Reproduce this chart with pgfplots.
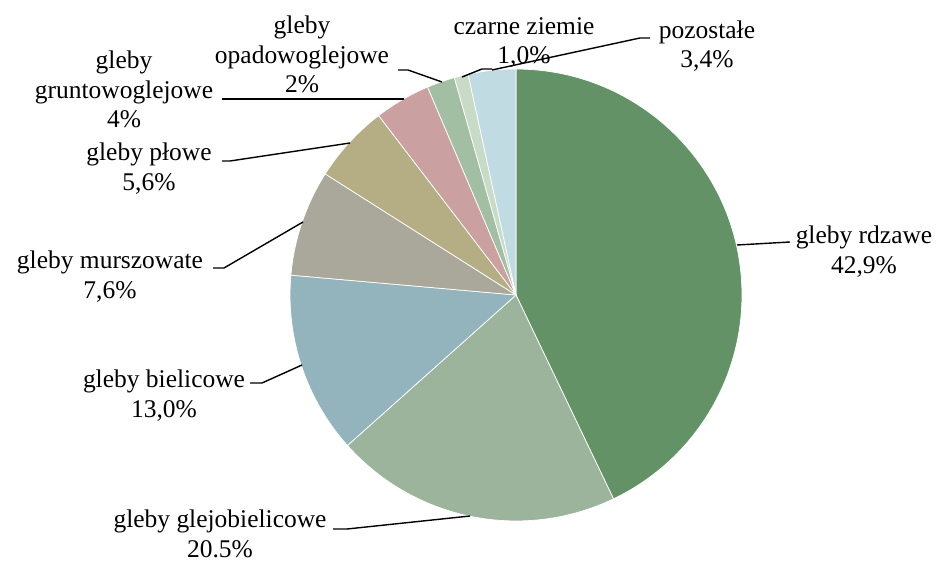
\documentclass[border=0pt]{standalone}
\usepackage{fontspec}
\setmainfont{Liberation Serif}
\usepackage{pgfplots}
\usepackage{pgfplotstable}
\pgfplotsset{compat=1.18}

% slice colours, clockwise from 12 o'clock
\definecolor{pie0}{HTML}{639266}
\definecolor{pie1}{HTML}{9CB49C}
\definecolor{pie2}{HTML}{94B4BD}
\definecolor{pie3}{HTML}{A9A89A}
\definecolor{pie4}{HTML}{B5AE85}
\definecolor{pie5}{HTML}{CBA0A1}
\definecolor{pie6}{HTML}{A3BFA3}
\definecolor{pie7}{HTML}{C8DBC6}
\definecolor{pie8}{HTML}{C0DBE2}

\pgfplotstableread{
soil value
rdzawe 42.9
glejobielicowe 20.5
bielicowe 13.0
murszowate 7.6
plowe 5.6
gruntowoglejowe 4.0
opadowoglejowe 2.0
czarne 1.0
pozostale 3.4
}\soils

\begin{document}
\begin{tikzpicture}[lab/.style={align=center,anchor=base,inner sep=0pt,
    font=\fontsize{14.5}{17}\selectfont}]
\begin{axis}[
  x=0.02cm,y=0.02cm,
  xmin=0,xmax=939,ymin=0,ymax=562,
  hide axis,clip=false,
]
\path (axis cs:0,0) rectangle (axis cs:939,562);
\pgfplotsextra{
  \gdef\startang{90}
  \foreach \i in {0,...,8} {
    \pgfplotstablegetelem{\i}{value}\of\soils
    \pgfmathsetmacro\endang{\startang-3.6*\pgfplotsretval}
    \fill[pie\i,draw=white,line width=0.4pt] (axis cs:516,267) -- ++(\startang:4.52cm)
      arc[start angle=\startang,end angle=\endang,radius=4.52cm] -- cycle;
    \global\let\startang\endang
  }
}
% leader lines
\draw[line width=0.8pt] (axis cs:737,317) -- (axis cs:790,320);
\draw[line width=0.8pt] (axis cs:470,46) -- (axis cs:347,33) -- (axis cs:333,33);
\draw[line width=0.8pt] (axis cs:302,197) -- (axis cs:262,179) -- (axis cs:250,179);
\draw[line width=0.8pt] (axis cs:303,340) -- (axis cs:224,294) -- (axis cs:213,294);
\draw[line width=0.8pt] (axis cs:350,419) -- (axis cs:230,401) -- (axis cs:222,401);
\draw[line width=0.8pt] (axis cs:404,463) -- (axis cs:222,463);
\draw[line width=0.8pt] (axis cs:442,480) -- (axis cs:408,492) -- (axis cs:398,492);
\draw[line width=0.8pt] (axis cs:462,485) -- (axis cs:482,493) -- (axis cs:492,493);
\draw[line width=0.8pt] (axis cs:492,492) -- (axis cs:640,524) -- (axis cs:650,524);
% labels (anchor = baseline of the last line)
\node[lab] at (axis cs:864,289) {gleby rdzawe\\42,9\%};
\node[lab] at (axis cs:220,5) {gleby glejobielicowe\\20.5\%};
\node[lab] at (axis cs:164,145) {gleby bielicowe\\13,0\%};
\node[lab] at (axis cs:110,264) {gleby murszowate\\7,6\%};
\node[lab] at (axis cs:149,372) {gleby płowe\\5,6\%};
\node[lab] at (axis cs:124,434) {gleby\\gruntowoglejowe\\4\%};
\node[lab] at (axis cs:302,469) {gleby\\opadowoglejowe\\2\%};
\node[lab] at (axis cs:524,498) {czarne ziemie\\1,0\%};
\node[lab] at (axis cs:707,494) {pozostałe\\3,4\%};
\end{axis}
\end{tikzpicture}
\end{document}
